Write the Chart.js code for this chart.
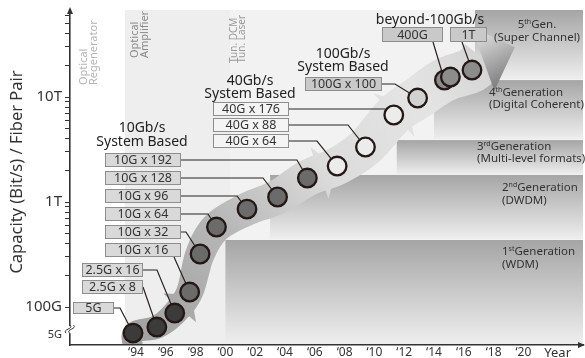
<!DOCTYPE html>
<html>
<head>
<meta charset="utf-8">
<script src="https://cdn.jsdelivr.net/npm/chart.js@4.4.1/dist/chart.umd.min.js"></script>
<style>
  html, body { margin: 0; padding: 0; background: #fff; }
  canvas { display: block; }
</style>
</head>
<body>
<canvas id="chart" width="585" height="358"></canvas>
<script>
// optical transmission systems: capacity per fiber pair (Gb/s as placed on the log axis) by year
var systemNames = ['5G', '2.5G x 8', '2.5G x 16', '10G x 16', '10G x 32', '10G x 64', '10G x 96', '10G x 128', '10G x 192',
  '40G x 64', '40G x 88', '40G x 176', '100G x 100', '400G', '400G', '1T'];
var systemYears = [1993.8, 1995.4, 1996.6, 1997.6, 1998.3, 1999.4, 2001.45, 2003.5, 2005.5,
  2007.5, 2009.4, 2011.3, 2012.9, 2014.7, 2015.1, 2016.55];
var systemCapacity = [56.5, 64.5, 87.7, 139, 320, 578, 857, 1117, 1693,
  2203, 3342, 6745, 9780, 14530, 15500, 18070];
var systemGroup = ['early', 'early', 'early', '10G', '10G', '10G', '10G', '10G', '10G',
  '40G', '40G', '40G', '100G', 'beyond', 'beyond', 'beyond'];

var yearTicks = [1994, 1996, 1998, 2000, 2002, 2004, 2006, 2008, 2010, 2012, 2014, 2016, 2018, 2020];
var yearLabels = ['\u201894', '\u201896', '\u201898', '\u201800', '\u201802', '\u201804', '\u201806', '\u201808', '\u201810',
  '\u201812', '\u201814', '\u201816', '\u201818', '\u201820'];
var yearTitle = 'Year';
var capTicks = [100, 1000, 10000];
var capLabels = ['100G', '1T', '10T'];
var breakTick = 54;       // axis is broken below 100G
var breakLabel = '5G';

// generation bands (start year, capacity floor / ceiling in Gb/s)
var genSup = ['st', 'nd', 'rd', 'th', 'th'];
var genNum = ['1', '2', '3', '4', '5'];
var genTitle = ['Generation', 'Generation', 'Generation', 'Generation', 'Gen.'];
var genSub = ['(WDM)', '(DWDM)', '(Multi-level formats)', '(Digital Coherent)', '(Super Channel)'];
var genStartYear = [2000.0, 2003.0, 2011.5, 2014.0, 2016.75];
var genFloor = [43.5, 435, 1810, 3890, 14500];
var genCeil = [435, 1810, 3890, 14500, 67450];

var FONT = '"Noto Sans", "DejaVu Sans", sans-serif';

var pointFill = { early: '#3b3b3b', '10G': '#6b6b6b', '40G': '#ececec', '100G': '#d2d2d2', beyond: '#8c8c8c' };
var boxFill = { early: '#d9d9d9', '10G': '#d9d9d9', '40G': '#f4f4f4', '100G': '#c9c9c9', beyond: '#c9c9c9' };

// label boxes: x, y, w, h, line start x, line start y, elbow x
var boxLayout = [
  [73, 302, 41, 12, 114, 308, 120],
  [82, 280, 61, 14, 143, 287, 143],
  [82, 263, 61, 14, 143, 270, 157],
  [105, 243, 76, 14, 174, 257, 174],
  [105, 225, 76, 14, 181, 232, 186],
  [105, 207, 76, 14, 181, 214, 208],
  [105, 189, 76, 14, 181, 196, 237],
  [105, 171, 76, 14, 181, 178, 263],
  [105, 153, 76, 14, 181, 160, 297],
  [213, 134, 76, 14, 289, 141, 317],
  [213, 118, 76, 14, 289, 125, 348],
  [213, 102, 76, 14, 289, 109, 385],
  [305, 77, 77, 14, 382, 84, 395],
  [382, 27, 61, 15, 433, 42, 433],
  null,
  [450, 27, 37, 15, 462, 42, 462]
];

function vtext(ctx, lines, x0, gap, yBottom, color, size) {
  ctx.save();
  ctx.fillStyle = color;
  ctx.font = size + 'px ' + FONT;
  ctx.textAlign = 'left';
  ctx.textBaseline = 'middle';
  lines.forEach(function (t, i) {
    ctx.save();
    ctx.translate(x0 + i * gap, yBottom);
    ctx.rotate(-Math.PI / 2);
    ctx.fillText(t, 0, 0);
    ctx.restore();
  });
  ctx.restore();
}

function catmull(pts, n) {
  var out = [];
  for (var i = 0; i < pts.length - 1; i++) {
    var p0 = pts[Math.max(i - 1, 0)], p1 = pts[i], p2 = pts[i + 1], p3 = pts[Math.min(i + 2, pts.length - 1)];
    for (var k = 0; k < n; k++) {
      var t = k / n, t2 = t * t, t3 = t2 * t;
      out.push([
        0.5 * (2 * p1[0] + (-p0[0] + p2[0]) * t + (2 * p0[0] - 5 * p1[0] + 4 * p2[0] - p3[0]) * t2 + (-p0[0] + 3 * p1[0] - 3 * p2[0] + p3[0]) * t3),
        0.5 * (2 * p1[1] + (-p0[1] + p2[1]) * t + (2 * p0[1] - 5 * p1[1] + 4 * p2[1] - p3[1]) * t2 + (-p0[1] + 3 * p1[1] - 3 * p2[1] + p3[1]) * t3)
      ]);
    }
  }
  out.push(pts[pts.length - 1]);
  return out;
}

function drawArrow(ctx, chart) {
  var xs = chart.scales.x, ys = chart.scales.y, area = chart.chartArea;
  var pts = [];
  systemYears.forEach(function (yr, i) {
    if (i === 14) return;
    pts.push([xs.getPixelForValue(yr), ys.getPixelForValue(systemCapacity[i])]);
  });
  var last = pts[pts.length - 1], prev = pts[pts.length - 2];
  var dx = last[0] - prev[0], dy = last[1] - prev[1], dl = Math.hypot(dx, dy);
  var dir = [dx / dl, dy / dl];
  var up = [dir[1], -dir[0]];
  var base = [last[0] + dir[0] * 14 + up[0] * 7, last[1] + dir[1] * 14 + up[1] * 7];
  pts = [[pts[0][0] + 2, area.bottom + 8]].concat(pts).concat([base]);
  var path = catmull(pts, 10);
  var len = [0];
  for (var i = 1; i < path.length; i++) len.push(len[i - 1] + Math.hypot(path[i][0] - path[i - 1][0], path[i][1] - path[i - 1][1]));
  var total = len[len.length - 1];
  var left = [], right = [], norms = [];
  path.forEach(function (p, i) {
    var a = path[Math.max(i - 1, 0)], b = path[Math.min(i + 1, path.length - 1)];
    var tx = b[0] - a[0], ty = b[1] - a[1], tl = Math.hypot(tx, ty) || 1;
    var nx = -ty / tl, ny = tx / tl;
    var hw = 9 + 14 * Math.pow(len[i] / total, 0.7);
    norms.push([nx, ny, tx / tl, ty / tl, hw]);
    left.push([p[0] + nx * hw, p[1] + ny * hw]);
    right.push([p[0] - nx * hw, p[1] - ny * hw]);
  });
  var g = ctx.createLinearGradient(area.left + 60, area.bottom, 500, 40);
  g.addColorStop(0, '#a0a0a0');
  g.addColorStop(0.3, '#b6b6b6');
  g.addColorStop(0.55, '#dcdcdc');
  g.addColorStop(0.8, '#e4e4e4');
  g.addColorStop(1, '#cfcfcf');
  ctx.save();
  ctx.beginPath();
  ctx.rect(area.left, area.top, area.right - area.left, area.bottom - area.top);
  ctx.clip();
  ctx.fillStyle = g;
  ctx.beginPath();
  left.forEach(function (p, i) { if (i) ctx.lineTo(p[0], p[1]); else ctx.moveTo(p[0], p[1]); });
  for (var j = right.length - 1; j >= 0; j--) ctx.lineTo(right[j][0], right[j][1]);
  ctx.closePath();
  ctx.fill();
  // chained arrowheads along the band
  [178, 318, 392].forEach(function (px) {
    var idx = 0;
    while (idx < path.length - 1 && path[idx][0] < px) idx++;
    var p = path[idx], n = norms[idx], w = n[4] + 9;
    ctx.beginPath();
    ctx.moveTo(p[0] + n[0] * w, p[1] + n[1] * w);
    ctx.lineTo(p[0] + n[2] * 18, p[1] + n[3] * 18);
    ctx.lineTo(p[0] - n[0] * w, p[1] - n[1] * w);
    ctx.closePath();
    ctx.fill();
  });
  // final arrow head
  var nx = -dir[1], ny = dir[0];
  var tip = [base[0] + dir[0] * 34, base[1] + dir[1] * 34];
  var hg = ctx.createLinearGradient(base[0] - nx * 30, base[1] - ny * 30, base[0] + nx * 30 + dir[0] * 10, base[1] + ny * 30);
  hg.addColorStop(0, '#e8e8e8');
  hg.addColorStop(1, '#7a7a7a');
  ctx.fillStyle = hg;
  ctx.beginPath();
  ctx.moveTo(base[0] + nx * 34, base[1] + ny * 34);
  ctx.lineTo(tip[0], tip[1]);
  ctx.lineTo(base[0] - nx * 34, base[1] - ny * 34);
  ctx.closePath();
  ctx.fill();
  ctx.restore();
}

var decor = {
  id: 'decor',
  beforeDraw: function (chart) {
    var ctx = chart.ctx, xs = chart.scales.x, ys = chart.scales.y, a = chart.chartArea;
    ctx.save();
    ctx.fillStyle = '#fff';
    ctx.fillRect(0, 0, chart.width, chart.height);
    ctx.fillStyle = '#eeeeee';
    ctx.fillRect(125, a.top, 105, a.bottom - a.top);
    ctx.fillStyle = '#f2f2f2';
    ctx.fillRect(230, a.top, a.right - 230, a.bottom - a.top);
    // generation bands
    genStartYear.forEach(function (yr, i) {
      var x0 = xs.getPixelForValue(yr), yTop = ys.getPixelForValue(genCeil[i]), yBot = ys.getPixelForValue(genFloor[i]);
      var g = ctx.createLinearGradient(0, yTop, 0, yBot);
      g.addColorStop(0, '#a5a5a5');
      g.addColorStop(1, '#efefef');
      ctx.fillStyle = g;
      ctx.fillRect(x0, yTop, a.right - x0, yBot - yTop - 1);
    });
    vtext(ctx, ['Optical', 'Regenerator'], 84, 10, 85, '#b4b4b4', 11);
    vtext(ctx, ['Optical', 'Amplifier'], 135, 10, 58, '#8a8a8a', 11);
    vtext(ctx, ['Tun. DCM', 'Tun. Laser'], 234, 8.5, 63, '#999', 10);
    drawArrow(ctx, chart);
    // connector lines
    ctx.strokeStyle = '#2b2320';
    ctx.lineWidth = 1.2;
    boxLayout.forEach(function (b, i) {
      if (!b) return;
      var px = xs.getPixelForValue(systemYears[i]), py = ys.getPixelForValue(systemCapacity[i]);
      ctx.beginPath();
      ctx.moveTo(b[4], b[5]);
      ctx.lineTo(b[6], b[5]);
      ctx.lineTo(px, py);
      ctx.stroke();
    });
    ctx.restore();
  },
  afterDraw: function (chart) {
    var ctx = chart.ctx, a = chart.chartArea;
    ctx.save();
    // label boxes
    ctx.textAlign = 'center';
    ctx.textBaseline = 'middle';
    ctx.font = '12.5px ' + FONT;
    boxLayout.forEach(function (b, i) {
      if (!b) return;
      ctx.fillStyle = boxFill[systemGroup[i]];
      ctx.fillRect(b[0], b[1], b[2], b[3]);
      ctx.strokeStyle = '#8e8e8e';
      ctx.lineWidth = 1;
      ctx.strokeRect(b[0] + 0.5, b[1] + 0.5, b[2] - 1, b[3] - 1);
      ctx.fillStyle = '#333';
      ctx.fillText(systemNames[i], b[0] + b[2] / 2, b[1] + b[3] / 2 + 0.5);
    });
    // family headings
    ctx.fillStyle = '#222';
    ctx.font = '14px ' + FONT;
    [['10Gb/s', 142, 128], ['System Based', 142, 142], ['40Gb/s', 250, 81], ['System Based', 250, 94],
     ['100Gb/s', 343, 54], ['System Based', 343, 67.5], ['beyond-100Gb/s', 430, 20]].forEach(function (t) {
      ctx.fillText(t[0], t[1], t[2]);
    });
    // generation labels
    var genPos = [[502, 252, 265, 'left'], [502, 188, 201, 'left'], [477, 147, 159, 'left'], [489, 93, 105, 'left'], [537, 25, 38, 'center']];
    ctx.fillStyle = '#333';
    genPos.forEach(function (p, i) {
      ctx.font = '11.5px ' + FONT;
      var wNum = ctx.measureText(genNum[i]).width, wTitle = ctx.measureText(genTitle[i]).width;
      ctx.font = '7px ' + FONT;
      var wSup = ctx.measureText(genSup[i]).width;
      var total = wNum + wSup + wTitle;
      var x = p[3] === 'center' ? p[0] - total / 2 : p[0];
      ctx.textAlign = 'left';
      ctx.font = '11.5px ' + FONT;
      ctx.fillText(genNum[i], x, p[1]);
      ctx.fillText(genTitle[i], x + wNum + wSup, p[1]);
      ctx.font = '7px ' + FONT;
      ctx.fillText(genSup[i], x + wNum, p[1] - 3);
      ctx.font = '11.5px ' + FONT;
      var wSub = ctx.measureText(genSub[i]).width;
      ctx.fillText(genSub[i], p[3] === 'center' ? p[0] - wSub / 2 : p[0], p[2]);
    });
    // y axis title
    ctx.save();
    ctx.translate(17, 172);
    ctx.rotate(-Math.PI / 2);
    ctx.textAlign = 'center';
    ctx.font = '16.5px ' + FONT;
    ctx.fillStyle = '#333';
    ctx.fillText('Capacity (Bit/s) / Fiber Pair', 0, 0);
    ctx.restore();
    // axis arrows
    ctx.fillStyle = '#333';
    ctx.beginPath();
    ctx.moveTo(a.left, a.top - 3);
    ctx.lineTo(a.left - 3, a.top + 4);
    ctx.lineTo(a.left + 3, a.top + 4);
    ctx.fill();
    ctx.beginPath();
    ctx.moveTo(a.right + 2, a.bottom);
    ctx.lineTo(a.right - 5, a.bottom - 3);
    ctx.lineTo(a.right - 5, a.bottom + 3);
    ctx.fill();
    // axis break
    var yb = chart.scales.y.getPixelForValue(breakTick);
    ctx.fillStyle = '#fff';
    ctx.fillRect(a.left - 2, yb - 9, 4, 7);
    ctx.strokeStyle = '#333';
    ctx.lineWidth = 1;
    [0, 3.5].forEach(function (o) {
      ctx.beginPath();
      ctx.moveTo(a.left - 4 + o, yb - 2);
      ctx.bezierCurveTo(a.left - 8 + o, yb - 6, a.left + 4 + o, yb - 6, a.left + o, yb - 10);
      ctx.stroke();
    });
    ctx.restore();
  }
};

var ctx = document.getElementById('chart').getContext('2d');
var chart = new Chart(ctx, {
  type: 'scatter',
  data: {
    datasets: [{
      data: systemYears.map(function (yr, i) { return { x: yr, y: systemCapacity[i] }; }),
      pointRadius: 9.3,
      pointBackgroundColor: systemGroup.map(function (g) { return pointFill[g]; }),
      pointBorderColor: '#231815',
      pointBorderWidth: 2.3
    }]
  },
  options: {
    responsive: false,
    animation: false,
    events: [],
    layout: { autoPadding: false, padding: { top: 10, right: 2, left: 0, bottom: 0 } },
    plugins: { legend: { display: false }, tooltip: { enabled: false } },
    scales: {
      x: {
        type: 'linear',
        min: 1989.57,
        max: 2024,
        afterBuildTicks: function (s) {
          s.ticks = yearTicks.map(function (v) { return { value: v }; }).concat([{ value: 2022.3 }]);
        },
        afterFit: function (s) { s.height = 13; s.paddingLeft = 0; s.paddingRight = 0; },
        grid: { display: false, drawTicks: false },
        border: { display: true, color: '#333', width: 1.6 },
        ticks: {
          autoSkip: false,
          maxRotation: 0,
          padding: 0,
          color: '#333',
          font: function (c) { return { family: FONT, size: c.tick && c.tick.value > 2021 ? 13 : 12 }; },
          callback: function (v) {
            var i = yearTicks.indexOf(v);
            return i >= 0 ? yearLabels[i] : yearTitle;
          }
        }
      },
      y: {
        type: 'logarithmic',
        min: 43.5,
        max: 67450,
        afterBuildTicks: function (s) {
          var t = [{ value: breakTick }];
          for (var e = 100; e <= 10000; e *= 10) {
            for (var m = 1; m < 10; m++) if (m * e <= s.max) t.push({ value: m * e });
          }
          s.ticks = t;
        },
        afterFit: function (s) { s.width = 70; s.paddingTop = 0; s.paddingBottom = 0; },
        grid: {
          drawOnChartArea: false,
          drawTicks: true,
          tickLength: 5,
          tickColor: function (c) { return c.tick && c.tick.value === breakTick ? 'rgba(0,0,0,0)' : '#333'; }
        },
        border: { display: true, color: '#333', width: 1.6 },
        ticks: {
          autoSkip: false,
          padding: 3,
          color: '#333',
          font: function (c) { return { family: FONT, size: c.tick && c.tick.value === breakTick ? 11 : 15 }; },
          callback: function (v) {
            if (v === breakTick) return breakLabel;
            var i = capTicks.indexOf(v);
            return i >= 0 ? capLabels[i] : '';
          }
        }
      }
    }
  },
  plugins: [decor]
});
</script>
</body>
</html>
